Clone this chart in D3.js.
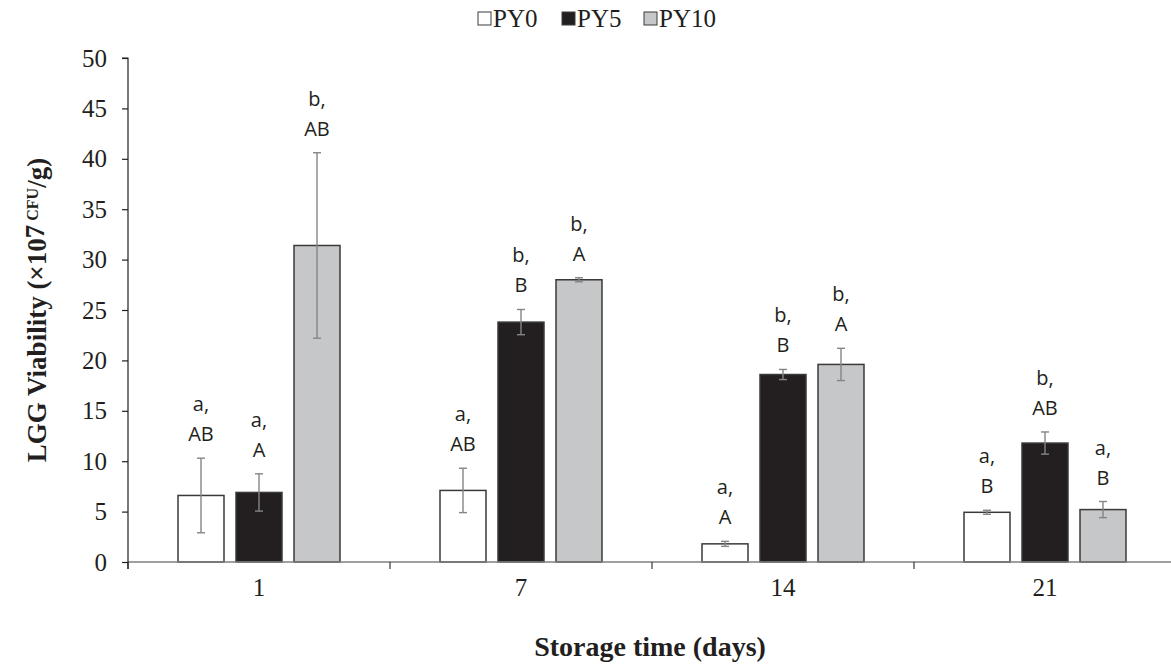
<!DOCTYPE html>
<html>
<head>
<meta charset="utf-8">
<script src="https://cdn.jsdelivr.net/npm/d3@7"></script>
<style>
  html, body { margin: 0; padding: 0; background: #fff; }
  svg { display: block; }
</style>
</head>
<body>
<svg id="chart" width="1171" height="664"></svg>
<script>
// ---- data ----
const categories = ["1", "7", "14", "21"];
const seriesNames = ["PY0", "PY5", "PY10"];
const py0 = [6.6, 7.1, 1.8, 4.93];
const py5 = [6.9, 23.8, 18.6, 11.8];
const py10 = [31.4, 28.0, 19.6, 5.2];
const py0Err = [3.7, 2.2, 0.25, 0.2];
const py5Err = [1.85, 1.25, 0.5, 1.1];
const py10Err = [9.2, 0.2, 1.6, 0.8];
const py0Letters = [["a,", "AB"], ["a,", "AB"], ["a,", "A"], ["a,", "B"]];
const py5Letters = [["a,", "A"], ["b,", "B"], ["b,", "B"], ["b,", "AB"]];
const py10Letters = [["b,", "AB"], ["b,", "A"], ["b,", "A"], ["a,", "B"]];
const yTicks = [0, 5, 10, 15, 20, 25, 30, 35, 40, 45, 50];

(function () {
const values = [py0, py5, py10];
const errs = [py0Err, py5Err, py10Err];
const letters = [py0Letters, py5Letters, py10Letters];
const fills = ["#ffffff", "#231f20", "#c6c7c9"];
const serif = "'Liberation Serif', 'Times New Roman', serif";

const rows = [];
categories.forEach((c, i) => {
  seriesNames.forEach((s, j) => {
    rows.push({ cat: c, series: s, value: values[j][i], err: errs[j][i], lab: letters[j][i], fill: fills[j] });
  });
});

const svg = d3.select("#chart");
const mLeft = 128, mRight = 1176, mTop = 58, mBottom = 562;

const x = d3.scaleBand().domain(categories).range([mLeft, mRight]).padding(0);
const inner = 0.207;
const x1 = d3.scaleBand().domain(seriesNames)
  .range([x.bandwidth() / 2 - 87, x.bandwidth() / 2 + 87])
  .paddingInner(inner).paddingOuter(inner / 2);
const y = d3.scaleLinear().domain([0, 50]).range([mBottom, mTop]);

// bars
svg.append("g").selectAll("rect").data(rows).join("rect")
  .attr("x", d => x(d.cat) + x1(d.series))
  .attr("y", d => y(d.value))
  .attr("width", x1.bandwidth())
  .attr("height", d => y(0) - y(d.value))
  .attr("fill", d => d.fill)
  .attr("stroke", "#3a3a3a")
  .attr("stroke-width", 1.5);

// x axis (ticks at category boundaries)
const xAxisG = svg.append("g").attr("transform", `translate(0,${mBottom})`);
xAxisG.append("line")
  .attr("x1", mLeft).attr("x2", mRight)
  .attr("stroke", "#7f7f7f").attr("stroke-width", 1.5);
const boundaries = categories.map(c => x(c)).concat([mRight]);
xAxisG.selectAll("line.tk").data(boundaries).join("line")
  .attr("class", "tk")
  .attr("x1", d => d).attr("x2", d => d)
  .attr("y1", 0).attr("y2", 7)
  .attr("stroke", "#3a3a3a").attr("stroke-width", 1.2);
xAxisG.selectAll("text").data(categories).join("text")
  .attr("x", d => x(d) + x.bandwidth() / 2)
  .attr("y", 34)
  .attr("text-anchor", "middle")
  .attr("font-family", serif)
  .attr("font-size", 25)
  .attr("fill", "#231f20")
  .text(d => d);

// y axis
const yAxis = d3.axisLeft(y).tickValues(yTicks).tickSize(6).tickPadding(15);
const yAxisG = svg.append("g").attr("transform", `translate(${mLeft},0)`).call(yAxis);
yAxisG.select(".domain").attr("stroke", "#231f20").attr("stroke-width", 1.2)
  .attr("d", `M-6,${mTop}H0V${mBottom + 7}`);
yAxisG.selectAll(".tick line").attr("stroke", "#231f20").attr("stroke-width", 1.2);
yAxisG.selectAll(".tick text")
  .attr("font-family", serif)
  .attr("font-size", 25)
  .attr("fill", "#231f20");

// error bars
const eg = svg.append("g").attr("stroke", "#858585").attr("stroke-width", 1.4);
rows.forEach(d => {
  const cx = x(d.cat) + x1(d.series) + x1.bandwidth() / 2;
  const yt = y(d.value + d.err), yb = y(d.value - d.err);
  eg.append("line").attr("x1", cx).attr("x2", cx).attr("y1", yt).attr("y2", yb);
  eg.append("line").attr("x1", cx - 4).attr("x2", cx + 4).attr("y1", yt).attr("y2", yt);
  eg.append("line").attr("x1", cx - 4).attr("x2", cx + 4).attr("y1", yb).attr("y2", yb);
});

// letters
const lg = svg.append("g")
  .attr("font-family", "'Open Sans', 'Noto Sans', sans-serif")
  .attr("font-size", 20)
  .attr("fill", "#231f20")
  .attr("text-anchor", "middle");
rows.forEach(d => {
  const cx = x(d.cat) + x1(d.series) + x1.bandwidth() / 2;
  const base = y(d.value + d.err) - 17;
  lg.append("text").attr("x", cx).attr("y", base - 30).text(d.lab[0]);
  lg.append("text").attr("x", cx).attr("y", base).text(d.lab[1]);
});

// axis titles
svg.append("text")
  .attr("x", 650).attr("y", 656)
  .attr("text-anchor", "middle")
  .attr("font-family", serif)
  .attr("font-weight", "bold")
  .attr("font-size", 28)
  .attr("fill", "#231f20")
  .text("Storage time (days)");

const ytitle = svg.append("text")
  .attr("transform", "translate(46,310) rotate(-90)")
  .attr("text-anchor", "middle")
  .attr("font-family", serif)
  .attr("font-weight", "bold")
  .attr("font-size", 27)
  .attr("fill", "#231f20");
ytitle.append("tspan").text("LGG Viability (×10");
ytitle.append("tspan").text("7").attr("dy", -2);
ytitle.append("tspan").text(" CFU").attr("font-size", 16).attr("dy", -6);
ytitle.append("tspan").text("/g)").attr("dy", 8);

// legend
const legendItems = [
  { name: "PY0", fill: fills[0], x: 478 },
  { name: "PY5", fill: fills[1], x: 562 },
  { name: "PY10", fill: fills[2], x: 644 }
];
const leg = svg.append("g");
legendItems.forEach(it => {
  leg.append("rect").attr("x", it.x).attr("y", 12).attr("width", 13).attr("height", 13)
    .attr("fill", it.fill).attr("stroke", "#3a3a3a").attr("stroke-width", 1);
  leg.append("text").attr("x", it.x + 15).attr("y", 27)
    .attr("font-family", serif)
    .attr("font-size", 25)
    .attr("fill", "#231f20")
    .text(it.name);
});
})();
</script>
</body>
</html>
